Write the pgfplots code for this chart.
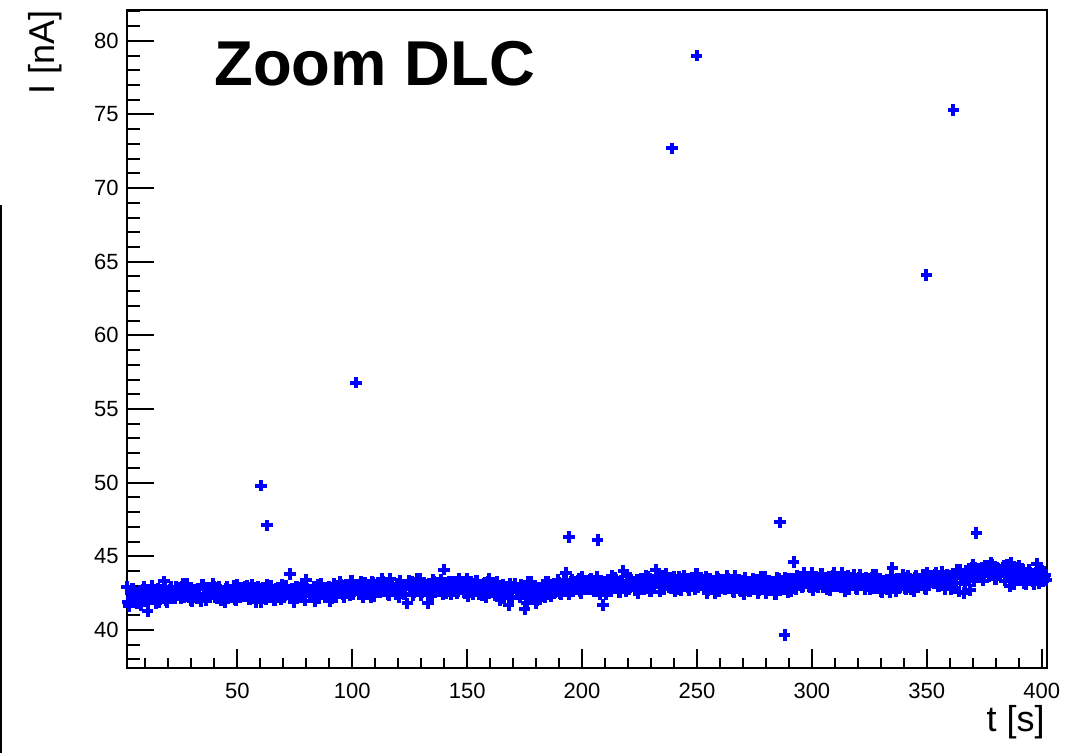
\documentclass[border=0pt]{standalone}
\usepackage{fontspec}
\setmainfont{Liberation Sans}
\usepackage{pgfplots}
\pgfplotsset{compat=1.18}
\definecolor{rootblue}{RGB}{0,0,255}
\pgfplotsset{readings/.style={only marks, mark=+, mark size=2.9pt, color=rootblue,
    mark options={line width=2pt}}}

\begin{document}
\begin{tikzpicture}
\useasboundingbox (-63.5pt,-42.5pt) rectangle (481pt,334pt);
% thin frame edge of the neighbouring pad
\draw[line width=1pt] (-62.75pt,-42.5pt) -- (-62.75pt,231.5pt);
\begin{axis}[
  at={(0,0)}, anchor=south west,
  width=460pt, height=329pt, scale only axis,
  xmin=2, xmax=402.3, ymin=37.42, ymax=82.09,
  clip=false,
  xtick={50,100,...,400},
  minor xtick={10,20,...,400},
  ytick={40,45,...,80},
  minor ytick={38,39,...,82},
  tick align=inside, tick pos=left,
  axis line style={line width=1pt},
  every tick/.style={black, line width=1pt},
  major tick length=13.5pt, minor tick length=6.5pt,
  xtick style={/pgfplots/major tick length=9.5pt, /pgfplots/minor tick length=5pt},
  /pgf/number format/assume math mode=true,
  ticklabel style={font=\fontsize{11}{13}\selectfont, inner sep=0pt},
  xticklabel style={yshift=-7.5pt},
  yticklabel style={xshift=-4pt},
  xlabel={t [s]}, ylabel={I [nA]},
  label style={font=\fontsize{18}{21}\selectfont, inner sep=0pt},
  xlabel style={at={(axis description cs:1,0)}, anchor=north east, yshift=-18.5pt, xshift=-1pt},
  ylabel style={at={(axis description cs:-0.0707,1)}, anchor=south east},
]
% readings on the whole seconds
\addplot[readings] coordinates {
(2,42.9) (3,41.6) (4,42.8) (5,41.9) (6,42.3) (7,42.5) (8,41.7) (9,42.7) (10,42.2) (11,41.3)
(12,42.1) (13,43.0) (14,42.2) (15,42.5) (16,41.9) (17,42.7) (18,43.3) (19,42.0) (20,42.6) (21,42.9)
(22,42.65) (23,42.15) (24,42.85) (25,42.45) (26,42.95) (27,42.25) (28,43.15) (29,42.35) (30,42.05) (31,42.75)
(32,42.35) (33,42.75) (34,41.95) (35,43.05) (36,42.45) (37,42.85) (38,42.25) (39,42.65) (40,42.95) (41,42.15)
(42,42.9) (43,42.0) (44,42.6) (45,42.8) (46,42.2) (47,42.4) (48,42.7) (49,42.1) (50,43.1) (51,42.5)
(52,42.8) (53,42.3) (54,43.0) (55,42.1) (56,42.5) (57,42.7) (58,41.9) (59,42.9) (60,42.4) (61,42.6)
(62,42.2) (63,43.1) (64,42.3) (65,42.6) (66,42.0) (67,42.8) (68,42.5) (69,42.1) (70,42.7) (71,43.0)
(72,42.6) (73,43.8) (74,42.8) (75,42.4) (76,42.9) (77,42.2) (78,43.1) (79,42.3) (80,43.4) (81,42.7)
(82,42.35) (83,42.75) (84,41.95) (85,43.05) (86,42.45) (87,42.85) (88,42.25) (89,42.65) (90,42.95) (91,42.15)
(92,43.15) (93,42.25) (94,42.85) (95,43.05) (96,42.45) (97,42.65) (98,42.95) (99,42.35) (100,43.35) (101,42.75)
(102,43.1) (103,42.6) (104,43.3) (105,42.4) (106,42.8) (107,43.0) (108,42.2) (109,43.2) (110,42.7) (111,42.9)
(112,42.55) (113,43.45) (114,42.65) (115,42.95) (116,42.35) (117,43.15) (118,42.85) (119,42.45) (120,43.05) (121,43.35)
(122,42.95) (123,42.45) (124,41.8) (125,42.75) (126,43.25) (127,42.55) (128,43.45) (129,42.65) (130,42.35) (131,43.05)
(132,42.7) (133,41.8) (134,43.1) (135,43.4) (136,42.8) (137,43.2) (138,42.6) (139,43.0) (140,44.1) (141,42.5)
(142,43.3) (143,42.4) (144,43.0) (145,43.2) (146,42.6) (147,42.8) (148,43.1) (149,42.5) (150,43.5) (151,42.9)
(152,43.15) (153,42.65) (154,43.35) (155,42.45) (156,42.85) (157,43.05) (158,42.25) (159,43.25) (160,42.75) (161,42.95)
(162,42.35) (163,43.25) (164,42.45) (165,42.75) (166,42.15) (167,42.95) (168,41.7) (169,42.25) (170,42.85) (171,43.15)
(172,42.75) (173,42.25) (174,42.95) (175,41.4) (176,41.8) (177,42.35) (178,43.25) (179,42.45) (180,41.85) (181,42.85)
(182,42.6) (183,43.0) (184,42.2) (185,43.3) (186,42.7) (187,43.1) (188,42.5) (189,42.9) (190,43.2) (191,42.4)
(192,43.4) (193,43.9) (194,43.1) (195,43.3) (196,42.7) (197,42.9) (198,43.2) (199,42.6) (200,43.6) (201,43.0)
(202,43.3) (203,42.8) (204,43.5) (205,42.6) (206,43.0) (207,43.2) (208,42.4) (209,41.7) (210,42.9) (211,43.1)
(212,42.75) (213,43.65) (214,42.85) (215,43.15) (216,42.55) (217,43.35) (218,44.0) (219,42.65) (220,43.25) (221,43.55)
(222,43.2) (223,42.7) (224,43.4) (225,43.0) (226,43.5) (227,42.8) (228,43.7) (229,42.9) (230,42.6) (231,43.3)
(232,44.1) (233,43.4) (234,42.6) (235,43.7) (236,43.1) (237,43.5) (238,42.9) (239,43.3) (240,43.6) (241,42.8)
(242,43.6) (243,42.7) (244,43.3) (245,43.5) (246,42.9) (247,43.1) (248,43.4) (249,42.8) (250,43.8) (251,43.2)
(252,43.4) (253,42.9) (254,43.6) (255,42.7) (256,43.1) (257,43.3) (258,42.5) (259,43.5) (260,43.0) (261,43.2)
(262,42.75) (263,43.65) (264,42.85) (265,43.15) (266,42.55) (267,43.35) (268,43.05) (269,42.65) (270,43.25) (271,43.55)
(272,43.1) (273,42.6) (274,43.3) (275,42.9) (276,43.4) (277,42.7) (278,43.6) (279,42.8) (280,42.5) (281,43.2)
(282,42.85) (283,43.25) (284,42.45) (285,43.55) (286,42.95) (287,43.35) (288,42.75) (289,43.15) (290,43.45) (291,42.65)
(292,44.6) (293,42.8) (294,43.4) (295,43.6) (296,43.0) (297,43.2) (298,43.5) (299,42.9) (300,43.9) (301,43.3)
(302,43.6) (303,43.1) (304,43.8) (305,42.9) (306,43.3) (307,43.5) (308,42.7) (309,43.7) (310,43.2) (311,43.4)
(312,42.95) (313,43.85) (314,43.05) (315,43.35) (316,42.75) (317,43.55) (318,43.25) (319,42.85) (320,43.45) (321,43.75)
(322,43.25) (323,42.75) (324,43.45) (325,43.05) (326,43.55) (327,42.85) (328,43.75) (329,42.95) (330,42.65) (331,43.35)
(332,42.95) (333,43.35) (334,42.55) (335,44.2) (336,43.05) (337,43.45) (338,42.85) (339,43.25) (340,43.55) (341,42.75)
(342,43.65) (343,42.75) (344,43.35) (345,43.55) (346,42.95) (347,43.15) (348,43.45) (349,42.85) (350,43.85) (351,43.25)
(352,43.65) (353,43.15) (354,43.85) (355,42.95) (356,43.35) (357,43.55) (358,42.75) (359,43.75) (360,43.25) (361,43.45)
(362,43.2) (363,44.1) (364,42.6) (365,43.7) (366,42.5) (367,44.0) (368,43.6) (369,42.7) (370,44.4) (371,44.2)
(372,44.05) (373,43.55) (374,44.25) (375,43.85) (376,44.35) (377,43.65) (378,44.55) (379,43.75) (380,43.45) (381,44.15)
(382,43.75) (383,44.15) (384,43.35) (385,44.45) (386,43.0) (387,44.25) (388,43.1) (389,44.05) (390,44.35) (391,43.55)
(392,44.0) (393,43.1) (394,43.7) (395,43.9) (396,43.3) (397,43.5) (398,44.5) (399,43.2) (400,44.0) (401,43.6) (402,43.4)
};
% readings on the half seconds
\addplot[readings] coordinates {
(2.5,41.9) (3.5,42.5) (4.5,42.8) (5.5,42.2) (6.5,41.8) (7.5,42.6) (8.5,42.3) (9.5,42.9) (10.5,42.0) (11.5,42.4)
(12.5,42.6) (13.5,42.1) (14.5,41.8) (15.5,42.8) (16.5,42.5) (17.5,42.2) (18.5,42.9) (19.5,41.9) (20.5,42.7) (21.5,42.4)
(22.5,42.55) (23.5,42.95) (24.5,42.35) (25.5,42.15) (26.5,43.15) (27.5,42.65) (28.5,42.45) (29.5,42.85) (30.5,41.95) (31.5,42.75)
(32.5,42.15) (33.5,42.75) (34.5,43.05) (35.5,42.45) (36.5,42.05) (37.5,42.85) (38.5,42.55) (39.5,43.15) (40.5,42.25) (41.5,42.65)
(42.5,42.7) (43.5,42.2) (44.5,41.9) (45.5,42.9) (46.5,42.6) (47.5,42.3) (48.5,43.0) (49.5,42.0) (50.5,42.8) (51.5,42.5)
(52.5,42.5) (53.5,42.9) (54.5,42.3) (55.5,42.1) (56.5,43.1) (57.5,42.6) (58.5,42.4) (59.5,42.8) (60.5,41.9) (61.5,42.7)
(62.5,42.1) (63.5,42.7) (64.5,43.0) (65.5,42.4) (66.5,42.0) (67.5,42.8) (68.5,42.5) (69.5,43.1) (70.5,42.2) (71.5,42.6)
(72.5,42.7) (73.5,42.2) (74.5,41.9) (75.5,42.9) (76.5,42.6) (77.5,42.3) (78.5,43.0) (79.5,42.0) (80.5,42.8) (81.5,42.5)
(82.5,42.55) (83.5,42.95) (84.5,42.35) (85.5,42.15) (86.5,43.15) (87.5,42.65) (88.5,42.45) (89.5,42.85) (90.5,41.95) (91.5,42.75)
(92.5,42.35) (93.5,42.95) (94.5,43.25) (95.5,42.65) (96.5,42.25) (97.5,43.05) (98.5,42.75) (99.5,43.35) (100.5,42.45) (101.5,42.85)
(102.5,43.0) (103.5,42.5) (104.5,42.2) (105.5,43.2) (106.5,42.9) (107.5,42.6) (108.5,43.3) (109.5,42.3) (110.5,43.1) (111.5,42.8)
(112.5,42.85) (113.5,43.25) (114.5,42.65) (115.5,42.45) (116.5,43.45) (117.5,42.95) (118.5,42.75) (119.5,43.15) (120.5,42.25) (121.5,43.05)
(122.5,42.45) (123.5,43.05) (124.5,43.35) (125.5,42.75) (126.5,42.35) (127.5,43.15) (128.5,42.85) (129.5,43.45) (130.5,42.55) (131.5,42.95)
(132.5,43.1) (133.5,42.6) (134.5,42.3) (135.5,43.3) (136.5,43.0) (137.5,42.7) (138.5,43.4) (139.5,42.4) (140.5,43.2) (141.5,42.9)
(142.5,42.9) (143.5,43.3) (144.5,42.7) (145.5,42.5) (146.5,43.5) (147.5,43.0) (148.5,42.8) (149.5,43.2) (150.5,42.3) (151.5,43.1)
(152.5,42.45) (153.5,43.05) (154.5,43.35) (155.5,42.75) (156.5,42.35) (157.5,43.15) (158.5,42.85) (159.5,43.45) (160.5,42.55) (161.5,42.95)
(162.5,42.85) (163.5,42.35) (164.5,42.05) (165.5,43.05) (166.5,42.75) (167.5,42.45) (168.5,43.15) (169.5,42.15) (170.5,42.95) (171.5,42.65)
(172.5,42.65) (173.5,43.05) (174.5,42.45) (175.5,42.25) (176.5,43.25) (177.5,42.75) (178.5,42.55) (179.5,42.95) (180.5,42.05) (181.5,42.85)
(182.5,42.4) (183.5,43.0) (184.5,43.3) (185.5,42.7) (186.5,42.3) (187.5,43.1) (188.5,42.8) (189.5,43.4) (190.5,42.5) (191.5,42.9)
(192.5,43.2) (193.5,42.7) (194.5,42.4) (195.5,43.4) (196.5,43.1) (197.5,42.8) (198.5,43.5) (199.5,42.5) (200.5,43.3) (201.5,43.0)
(202.5,43.0) (203.5,43.4) (204.5,42.8) (205.5,42.6) (206.5,43.6) (207.5,43.1) (208.5,42.9) (209.5,43.3) (210.5,42.4) (211.5,43.2)
(212.5,42.65) (213.5,43.25) (214.5,43.55) (215.5,42.95) (216.5,42.55) (217.5,43.35) (218.5,43.05) (219.5,43.65) (220.5,42.75) (221.5,43.15)
(222.5,43.3) (223.5,42.8) (224.5,42.5) (225.5,43.5) (226.5,43.2) (227.5,42.9) (228.5,43.6) (229.5,42.6) (230.5,43.4) (231.5,43.1)
(232.5,43.2) (233.5,43.6) (234.5,43.0) (235.5,42.8) (236.5,43.8) (237.5,43.3) (238.5,43.1) (239.5,43.5) (240.5,42.6) (241.5,43.4)
(242.5,42.8) (243.5,43.4) (244.5,43.7) (245.5,43.1) (246.5,42.7) (247.5,43.5) (248.5,43.2) (249.5,43.8) (250.5,42.9) (251.5,43.3)
(252.5,43.3) (253.5,42.8) (254.5,42.5) (255.5,43.5) (256.5,43.2) (257.5,42.9) (258.5,43.6) (259.5,42.6) (260.5,43.4) (261.5,43.1)
(262.5,43.05) (263.5,43.45) (264.5,42.85) (265.5,42.65) (266.5,43.65) (267.5,43.15) (268.5,42.95) (269.5,43.35) (270.5,42.45) (271.5,43.25)
(272.5,42.6) (273.5,43.2) (274.5,43.5) (275.5,42.9) (276.5,42.5) (277.5,43.3) (278.5,43.0) (279.5,43.6) (280.5,42.7) (281.5,43.1)
(282.5,43.25) (283.5,42.75) (284.5,42.45) (285.5,43.45) (286.5,43.15) (287.5,42.85) (288.5,43.55) (289.5,42.55) (290.5,43.35) (291.5,43.05)
(292.5,43.3) (293.5,43.7) (294.5,43.1) (295.5,42.9) (296.5,43.9) (297.5,43.4) (298.5,43.2) (299.5,43.6) (300.5,42.7) (301.5,43.5)
(302.5,42.9) (303.5,43.5) (304.5,43.8) (305.5,43.2) (306.5,42.8) (307.5,43.6) (308.5,43.3) (309.5,43.9) (310.5,43.0) (311.5,43.4)
(312.5,43.45) (313.5,42.95) (314.5,42.65) (315.5,43.65) (316.5,43.35) (317.5,43.05) (318.5,43.75) (319.5,42.75) (320.5,43.55) (321.5,43.25)
(322.5,43.15) (323.5,43.55) (324.5,42.95) (325.5,42.75) (326.5,43.75) (327.5,43.25) (328.5,43.05) (329.5,43.45) (330.5,42.55) (331.5,43.35)
(332.5,42.75) (333.5,43.35) (334.5,43.65) (335.5,43.05) (336.5,42.65) (337.5,43.45) (338.5,43.15) (339.5,43.75) (340.5,42.85) (341.5,43.25)
(342.5,43.45) (343.5,42.95) (344.5,42.65) (345.5,43.65) (346.5,43.35) (347.5,43.05) (348.5,43.75) (349.5,42.75) (350.5,43.55) (351.5,43.25)
(352.5,43.35) (353.5,43.75) (354.5,43.15) (355.5,42.95) (356.5,43.95) (357.5,43.45) (358.5,43.25) (359.5,43.65) (360.5,42.75) (361.5,43.55)
(362.5,43.2) (363.5,43.8) (364.5,44.1) (365.5,43.5) (366.5,43.1) (367.5,43.9) (368.5,43.6) (369.5,44.2) (370.5,43.3) (371.5,43.7)
(372.5,44.15) (373.5,43.65) (374.5,43.35) (375.5,44.35) (376.5,44.05) (377.5,43.75) (378.5,44.45) (379.5,43.45) (380.5,44.25) (381.5,43.95)
(382.5,43.95) (383.5,44.35) (384.5,43.75) (385.5,43.55) (386.5,44.55) (387.5,44.05) (388.5,43.85) (389.5,44.25) (390.5,43.35) (391.5,44.15)
(392.5,43.2) (393.5,43.8) (394.5,44.1) (395.5,43.5) (396.5,43.1) (397.5,43.9) (398.5,43.6) (399.5,44.2) (400.5,43.3) (401.5,43.7)
};
% isolated readings away from the baseline
\addplot[readings] coordinates {
(60.3,49.8) (62.9,47.1) (101.6,56.8) (194.2,46.3) (206.8,46.1) (239.2,72.7)
(249.8,79.0) (286.2,47.3) (288.1,39.65) (349.8,64.1) (361.6,75.3) (371.6,46.6)
};
\node[anchor=base west, inner sep=0pt, font=\bfseries\fontsize{31.7}{38}\selectfont]
  at (rel axis cs:0.0946,0.8845) {Zoom DLC};
\end{axis}
\end{tikzpicture}
\end{document}
